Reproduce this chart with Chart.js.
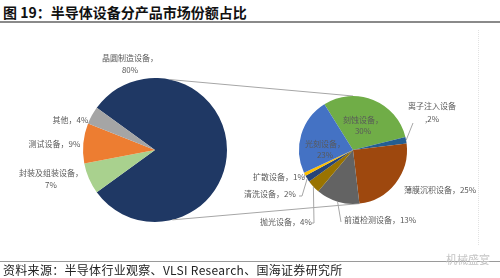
<!DOCTYPE html>
<html><head><meta charset="utf-8">
<script src="https://cdn.jsdelivr.net/npm/chart.js@4.4.0/dist/chart.umd.min.js"></script>
<style>
html,body{margin:0;padding:0;background:#fff;}
#wrap{position:relative;width:500px;height:278px;overflow:hidden;background:#fff;font-family:"Noto Sans CJK SC",sans-serif;}
#title{position:absolute;left:3px;top:2px;font-size:14px;font-weight:bold;color:#111;line-height:20px;white-space:nowrap;}
#tline{position:absolute;left:0;top:21px;width:500px;height:2px;background:#8a8a8a;}
#fline{position:absolute;left:0;top:261px;width:500px;height:1px;background:#9a9a9a;}
#source{position:absolute;left:3px;top:262px;font-size:12px;color:#222;line-height:16px;white-space:nowrap;letter-spacing:0.3px;}
#wm{position:absolute;left:446px;top:252px;font-size:11px;color:#c4c4c4;line-height:14px;white-space:nowrap;}
#dots{position:absolute;left:478px;top:30px;width:0;height:215px;border-left:1px dotted #e2e2e2;}
canvas{position:absolute;left:0;top:0;}
</style>
</head>
<body>
<div id="wrap">
  <div id="title">图 19：半导体设备分产品市场份额占比</div>
  <div id="tline"></div>
  <div id="dots"></div>
  <canvas id="c1" width="500" height="278"></canvas>
  <canvas id="c2" width="500" height="278"></canvas>
  <div id="fline"></div>
  <div id="wm">机械盛宴</div>
  <div id="source">资料来源：半导体行业观察、VLSI Research、国海证券研究所</div>
</div>
<script>
// ---- data ----
const mainLabels = ['晶圆制造设备', '封装及组装设备', '测试设备', '其他'];
const mainValues = [80, 7, 9, 4];
const mainColors = ['#1F3864', '#A9D18E', '#ED7D31', '#A5A5A5'];

const subLabels = ['刻蚀设备', '离子注入设备', '薄膜沉积设备', '前道检测设备', '抛光设备', '清洗设备', '扩散设备', '光刻设备'];
const subValues = [30, 2, 25, 13, 4, 2, 1, 23];
const subColors = ['#70AD47', '#255E91', '#9E480E', '#636363', '#997300', '#264478', '#FFC000', '#4472C4'];

// ---- label layout (text built from data) ----
const LABEL_FONT = '8px "Noto Sans CJK SC", sans-serif';
const LABEL_COLOR = '#595959';
const LEADER_COLOR = '#a6a6a6';

const mainLabelLayout = [
  {x: 130, y: 58, lh: 12, split: true},
  {x: 51, y: 173, lh: 11.5, split: true},
  {x: 54.5, y: 144},
  {x: 70.5, y: 120}
];
const subLabelLayout = [
  {x: 363, y: 120, lh: 11, split: true},
  {x: 432, y: 106, lh: 13, split: 'plain', leader: [[413, 123]]},
  {x: 440, y: 190},
  {x: 380, y: 220, leader: [[341, 222]]},
  {x: 286, y: 222, leader: [[314, 223], [312, 223]]},
  {x: 270, y: 194, leader: [[302, 196], [299, 196]]},
  {x: 279, y: 177, leader: [[304, 178]]},
  {x: 325, y: 144, lh: 11, split: true}
];

function labelLines(name, val, lay) {
  if (lay.split === true) return [name + '，', val + '%'];
  if (lay.split === 'plain') return [name, ',' + val + '%'];
  return [name + '，' + val + '%'];
}

function drawLabels(chart, names, vals, layout) {
  const ctx = chart.ctx;
  const meta = chart.getDatasetMeta(0);
  ctx.save();
  layout.forEach((lay, i) => {
    const arc = meta.data[i];
    if (lay.leader) {
      const mid = (arc.startAngle + arc.endAngle) / 2;
      const r = arc.outerRadius;
      ctx.strokeStyle = LEADER_COLOR;
      ctx.lineWidth = 1;
      ctx.beginPath();
      ctx.moveTo(arc.x + Math.cos(mid) * r, arc.y + Math.sin(mid) * r);
      lay.leader.forEach(p => ctx.lineTo(p[0], p[1]));
      ctx.stroke();
    }
    const lines = labelLines(names[i], vals[i], lay);
    ctx.font = LABEL_FONT;
    ctx.fillStyle = LABEL_COLOR;
    ctx.textAlign = 'center';
    ctx.textBaseline = 'middle';
    lines.forEach((t, k) => ctx.fillText(t, lay.x, lay.y + k * (lay.lh || 11)));
  });
  ctx.restore();
}

const baseOpts = {
  responsive: false,
  animation: false,
  events: [],
  plugins: {legend: {display: false}, tooltip: {enabled: false}}
};

const big = new Chart(document.getElementById('c1'), {
  type: 'pie',
  data: {labels: mainLabels, datasets: [{data: mainValues, backgroundColor: mainColors, borderWidth: 0}]},
  options: Object.assign({}, baseOpts, {
    rotation: -54,
    layout: {padding: {left: 83, right: 273, top: 78, bottom: 56}}
  }),
  plugins: [{
    id: 'bigLabels',
    afterDatasetsDraw(chart) { drawLabels(chart, mainLabels, mainValues, mainLabelLayout); }
  }]
});

const CONNECT = {bigTop: -78, bigBottom: 76, subTop: -90, subBottom: 83};

new Chart(document.getElementById('c2'), {
  type: 'pie',
  data: {labels: subLabels, datasets: [{data: subValues, backgroundColor: subColors, borderWidth: 0}]},
  options: Object.assign({}, baseOpts, {
    rotation: -32,
    layout: {padding: {left: 299, right: 93, top: 96, bottom: 74}}
  }),
  plugins: [{
    id: 'subLabels',
    beforeDatasetsDraw(chart) {
      const b = big.getDatasetMeta(0).data[0];
      const s = chart.getDatasetMeta(0).data[0];
      const ctx = chart.ctx;
      const pt = (el, deg) => [el.x + Math.cos(deg * Math.PI / 180) * el.outerRadius, el.y + Math.sin(deg * Math.PI / 180) * el.outerRadius];
      ctx.save();
      ctx.strokeStyle = LEADER_COLOR;
      ctx.lineWidth = 1;
      [[CONNECT.bigTop, CONNECT.subTop], [CONNECT.bigBottom, CONNECT.subBottom]].forEach(([a, c]) => {
        const p1 = pt(b, a), p2 = pt(s, c);
        ctx.beginPath(); ctx.moveTo(p1[0], p1[1]); ctx.lineTo(p2[0], p2[1]); ctx.stroke();
      });
      ctx.restore();
    },
    afterDatasetsDraw(chart) { drawLabels(chart, subLabels, subValues, subLabelLayout); }
  }]
});
</script>
</body></html>
